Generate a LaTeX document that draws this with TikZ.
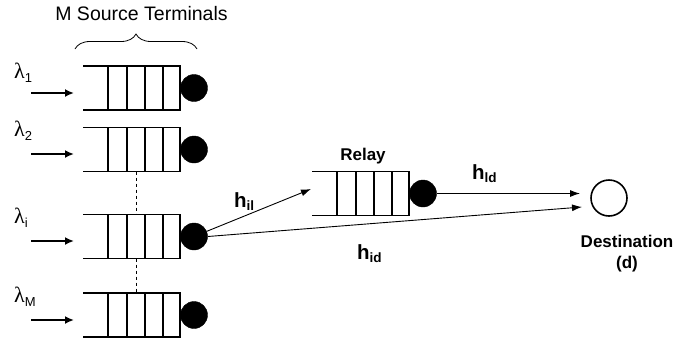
\documentclass[tikz,border=0pt]{standalone}
\usepackage{fontspec}
\setmainfont{Liberation Sans}
\newfontfamily\greekfont{Liberation Serif}
\usetikzlibrary{arrows.meta,decorations.pathreplacing}

\tikzset{
  qline/.style={line width=1.7pt},
  server/.style={circle,fill=black,draw=black,inner sep=0pt,minimum size=27pt},
  feed/.style={line width=1.8pt,-{Latex[length=9pt,width=8pt]}},
  link/.style={line width=0.9pt,-{Latex[length=10pt,width=7pt]}},
  lab/.style={font=\fontsize{20.5}{22}\selectfont\bfseries,inner sep=0pt,anchor=base west},
  rate/.style={inner sep=0pt,anchor=base west},
  title/.style={font=\fontsize{19.5}{22}\selectfont,inner sep=0pt,anchor=base},
  caption/.style={font=\fontsize{17}{20}\selectfont\bfseries,inner sep=0pt,anchor=base},
  queue/.pic={
    \draw[qline] (0,-22) -- (97,-22) -- (97,22) -- (0,22);
    \foreach \xx in {25,44,62,80}
      \draw[qline] (\xx,-22) -- (\xx,22);
    \node[server] (-srv) at (111,0) {};
  }
}

% lambda with a sans subscript
\newcommand{\arrrate}[1]{{\greekfont\fontsize{22}{24}\selectfont λ}\raisebox{-4pt}{\fontsize{13}{15}\selectfont #1}}

\begin{document}
\begin{tikzpicture}[x=1pt,y=-1pt]
\useasboundingbox (0,0) rectangle (695,341);

% source terminals
\node[title] (ttl) at (141.5,20.5) {M Source Terminals};
\draw[line width=0.8pt,decorate,decoration={brace,amplitude=15pt}] (75,49) -- (197,49);

\pic (q1) at (83,88) {queue};
\pic (q2) at (83,149.5) {queue};
\pic (qi) at (83,236.5) {queue};
\pic (qM) at (83,315) {queue};

% dashed links between the stacked queues
\draw[dashed,line width=0.7pt] (136,171.5) -- (136,214.5);
\draw[dashed,line width=0.7pt] (136,258.5) -- (136,293);

% arrival arrows and rates
\foreach \n/\yy/\bl/\s in {a1/93/78/1, a2/154/136/2, ai/241/223/i, aM/320/302/M}{
  \coordinate (\n-s) at (31,\yy);
  \coordinate (\n-e) at (74,\yy);
  \draw[feed] (\n-s) -- (\n-e);
  \node[rate] (\n-l) at (14,\bl) {\arrrate{\s}};
}

% relay
\node[caption] (rlab) at (363,160) {Relay};
\pic (relay) at (312,193.5) {queue};

% destination
\node[circle,draw=black,line width=1.6pt,minimum size=36pt,inner sep=0pt] (dest) at (609,198) {};
\node[caption] (dlab1) at (627,247) {Destination};
\node[caption] (dlab2) at (627,268) {(d)};

% channels
\coordinate (rin) at (311,189);
\coordinate (dtop) at (580,193.5);
\coordinate (dbot) at (582,207);
\draw[link] (qi-srv) -- (rin);
\draw[link] (relay-srv.east) -- (dtop);
\draw[link] (qi-srv.east) -- (dbot);

\node[lab] (hil) at (234,207) {h\raisebox{-3pt}{\fontsize{13.5}{15}\selectfont il}};
\node[lab] (hld) at (472,179) {h\raisebox{-3pt}{\fontsize{13.5}{15}\selectfont ld}};
\node[lab] (hid) at (357,259) {h\raisebox{-3pt}{\fontsize{13.5}{15}\selectfont id}};
\end{tikzpicture}
\end{document}
